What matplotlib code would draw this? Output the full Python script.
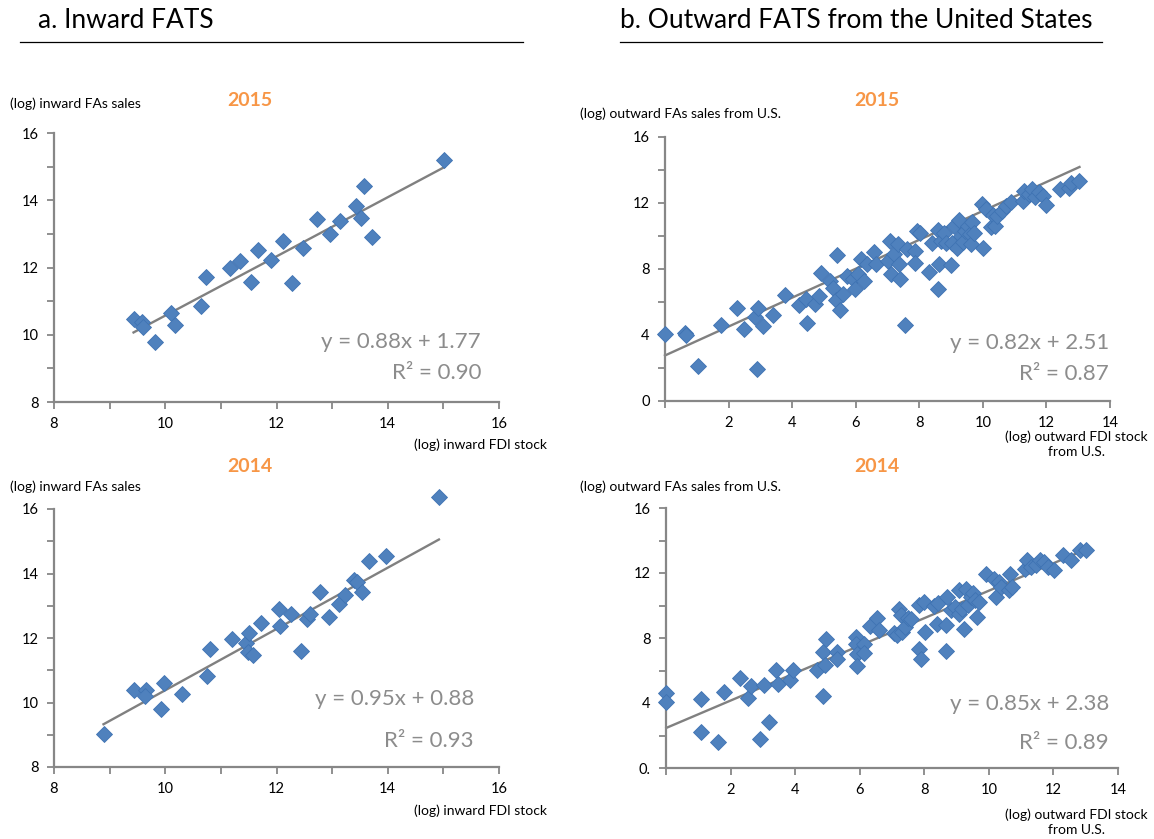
import matplotlib
matplotlib.use("Agg")
import matplotlib.pyplot as plt
from matplotlib.ticker import MultipleLocator

plt.rcParams['font.family'] = ['Lato', 'DejaVu Sans']

# ---- data: inward FATS (log FDI stock, log FAs sales) ----
in15_x = [9.43, 9.58, 9.60, 9.81, 10.10, 10.17, 10.64, 10.73, 11.16, 11.35, 11.55, 11.66,
          11.91, 12.12, 12.27, 12.47, 12.73, 12.96, 13.15, 13.43, 13.52, 13.58, 13.71, 15.02]
in15_y = [10.46, 10.37, 10.24, 9.79, 10.65, 10.29, 10.86, 11.71, 12.00, 12.18, 11.58, 12.52,
          12.22, 12.80, 11.53, 12.57, 13.45, 12.99, 13.37, 13.83, 13.47, 14.41, 12.92, 15.21]

in14_x = [8.89, 9.43, 9.66, 9.63, 9.93, 9.98, 10.31, 10.75, 10.81, 11.20, 11.46, 11.51,
          11.49, 11.57, 11.73, 12.05, 12.06, 12.26, 12.44, 12.54, 12.60, 12.78, 12.95, 13.12,
          13.24, 13.39, 13.45, 13.53, 13.66, 13.96, 14.92]
in14_y = [9.02, 10.38, 10.40, 10.20, 9.79, 10.61, 10.25, 10.82, 11.65, 11.96, 11.85, 12.17,
          11.58, 11.47, 12.46, 12.89, 12.38, 12.74, 11.60, 12.58, 12.74, 13.44, 12.66, 13.05,
          13.32, 13.80, 13.75, 13.42, 14.39, 14.53, 16.37]

# ---- data: outward FATS from the U.S. ----
out15_x = [0.00, 0.64, 0.67, 1.05, 1.76, 2.26, 2.48, 2.84, 2.93, 2.91, 3.07, 3.40, 3.77, 4.21,
           4.45, 4.48, 4.72, 4.83, 4.92, 5.18, 5.30, 5.37, 5.42, 5.51, 5.59, 5.74, 5.92, 5.97,
           6.07, 6.27, 6.17, 6.35, 6.56, 6.64, 7.03, 7.09, 7.11, 7.20, 7.32, 7.35, 7.40, 7.56,
           7.61, 7.85, 7.88, 7.93, 8.03, 8.32, 8.40, 8.59, 8.61, 8.59, 8.67, 8.79, 8.84, 8.99,
           9.02, 9.08, 9.20, 9.26, 9.31, 9.37, 9.45, 9.52, 9.61, 9.64, 9.66, 9.72, 9.96, 10.02,
           10.11, 10.25, 10.31, 10.37, 10.46, 10.60, 10.72, 10.89, 11.25, 11.31, 11.45, 11.54,
           11.63, 11.77, 11.89, 11.98, 12.42, 12.71, 12.77, 13.04]
out15_y = [4.06, 4.12, 4.02, 2.15, 4.59, 5.62, 4.37, 5.10, 5.62, 1.95, 4.57, 5.22, 6.42, 5.81,
           6.21, 4.71, 5.85, 6.36, 7.74, 7.25, 6.86, 6.15, 8.83, 5.54, 6.46, 7.57, 7.37, 6.76,
           7.68, 7.27, 8.63, 8.32, 9.00, 8.28, 8.49, 9.71, 7.68, 8.89, 9.50, 8.28, 7.37, 4.59,
           9.20, 9.10, 8.39, 10.31, 10.17, 7.82, 9.56, 10.38, 8.28, 6.76, 9.71, 10.21, 9.60, 8.22,
           9.60, 10.62, 9.30, 10.98, 10.01, 9.64, 10.31, 10.62, 10.11, 9.50, 10.82, 10.17, 11.94, 9.30,
           11.63, 10.52, 11.27, 10.62, 11.23, 11.53, 11.84, 12.08, 12.14, 12.75, 12.55, 12.85,
           12.35, 12.65, 12.45, 11.88, 12.85, 12.89, 13.22, 13.36]

out14_x = [0.01, 0.01, 1.07, 1.07, 1.62, 1.79, 2.30, 2.53, 2.64, 2.91, 3.02, 3.20, 3.40, 3.48,
           3.83, 3.94, 4.69, 4.86, 4.86, 4.95, 4.92, 5.30, 5.30, 5.87, 5.90, 5.92, 5.92, 6.13,
           6.13, 6.33, 6.53, 6.59, 7.05, 7.14, 7.22, 7.28, 7.30, 7.39, 7.51, 7.60, 7.85, 7.91,
           7.85, 7.99, 8.02, 8.31, 8.40, 8.43, 8.66, 8.68, 8.71, 8.83, 8.94, 9.06, 9.06, 9.17,
           9.23, 9.29, 9.34, 9.44, 9.52, 9.57, 9.63, 9.69, 9.90, 10.15, 10.21, 10.32, 10.38,
           10.61, 10.67, 10.72, 11.13, 11.18, 11.30, 11.47, 11.59, 11.70, 11.82, 12.02, 12.31,
           12.54, 12.82, 13.02]
out14_y = [4.64, 4.06, 4.23, 2.22, 1.60, 4.68, 5.54, 4.33, 5.03, 1.81, 5.09, 2.83, 6.05, 5.19,
           5.39, 6.05, 6.05, 7.14, 4.43, 7.96, 6.32, 7.14, 6.69, 8.06, 7.65, 6.99, 6.26, 7.65,
           7.08, 8.74, 9.25, 8.47, 8.31, 8.16, 9.76, 9.39, 8.37, 8.68, 9.25, 9.19, 7.34, 6.73,
           10.01, 10.22, 8.37, 9.95, 8.88, 10.15, 8.78, 7.18, 10.52, 9.70, 9.91, 10.93, 9.50, 9.81,
           8.57, 11.03, 10.01, 10.52, 10.77, 10.36, 9.29, 10.22, 11.92, 11.65, 10.52, 11.45, 11.14,
           10.93, 11.92, 11.14, 12.27, 12.78, 12.37, 12.47, 12.78, 12.68, 12.37, 12.16, 13.09,
           12.78, 13.44, 13.39]

# trend lines as drawn (slope, intercept) and printed equations
trend = {"in15": (0.88, 1.77), "in14": (0.95, 0.88), "out15": (0.876, 2.76), "out14": (0.845, 2.46)}
eq_text = {"in15": ("y = 0.88x + 1.77", "R² = 0.90"), "in14": ("y = 0.95x + 0.88", "R² = 0.93"),
           "out15": ("y = 0.82x + 2.51", "R² = 0.87"), "out14": ("y = 0.85x + 2.38", "R² = 0.89")}

W, H = 1154, 839
fig = plt.figure(figsize=(W / 100, H / 100), dpi=100)


def px(x, y):
    return x / W, 1 - y / H


def add_axes(x0, x1, ytop, ybot):
    return fig.add_axes([x0 / W, 1 - ybot / H, (x1 - x0) / W, (ybot - ytop) / H])


BLUE = "#4F81BD"
GRAY = "#808080"
ORANGE = "#F79646"


def panel(ax, xs, ys, key, xlim, ylim, xmaj, ymaj, xmin_, ymin_, eq_xy):
    ax.plot(xs, ys, linestyle="none", marker="D", markersize=8.5, color=BLUE,
            markeredgecolor="#3F73B3", markeredgewidth=0.6, clip_on=False, zorder=3)
    a, b = trend[key]
    x0, x1 = min(xs), max(xs)
    ax.plot([x0, x1], [a * x0 + b, a * x1 + b], color=GRAY, lw=1.7, zorder=2, clip_on=False)
    ax.set_xlim(*xlim)
    ax.set_ylim(*ylim)
    ax.xaxis.set_major_locator(MultipleLocator(xmaj))
    ax.yaxis.set_major_locator(MultipleLocator(ymaj))
    ax.xaxis.set_minor_locator(MultipleLocator(xmin_))
    ax.yaxis.set_minor_locator(MultipleLocator(ymin_))
    for s in ["top", "right"]:
        ax.spines[s].set_visible(False)
    for s in ["left", "bottom"]:
        ax.spines[s].set_color("#878787")
        ax.spines[s].set_linewidth(1.6)
    ax.tick_params(which="both", direction="out", color="#878787", width=1.3)
    ax.tick_params(which="major", length=5, labelsize=10.5, pad=6)
    ax.tick_params(which="minor", length=5)
    e1, e2 = eq_text[key]
    ex, ey1, ey2 = eq_xy
    fig.text(*px(ex, ey1), e1, ha="right", va="center", fontsize=16, color="#8C8C8C")
    fig.text(*px(ex, ey2), e2, ha="right", va="center", fontsize=16, color="#8C8C8C")


ax1 = add_axes(54, 499, 133, 402)
panel(ax1, in15_x, in15_y, "in15", (8, 16), (8, 16), 2, 2, 1, 1, (481, 342, 373))
ax2 = add_axes(54, 499, 509, 767)
panel(ax2, in14_x, in14_y, "in14", (8, 16), (8, 16), 2, 2, 1, 1, (474, 699, 741))
ax3 = add_axes(665, 1110, 137, 401)
panel(ax3, out15_x, out15_y, "out15", (0, 14), (0, 16), 2, 4, 2, 2, (1109, 343, 374))
ax4 = add_axes(666, 1118, 508, 768)
panel(ax4, out14_x, out14_y, "out14", (0, 14), (0, 16), 2, 4, 2, 2, (1109, 704, 743))

for ax in (ax3, ax4):
    ax.set_xticks([0, 2, 4, 6, 8, 10, 12, 14])
    ax.set_xticklabels(["", "2", "4", "6", "8", "10", "12", "14"])
ax4.set_yticks([0, 4, 8, 12, 16])
ax4.set_yticklabels(["0.", "4", "8", "12", "16"])

# section titles with underline
fig.text(*px(38, 20), "a. Inward FATS", fontsize=19, va="center", ha="left")
fig.text(*px(620, 20), "b. Outward FATS from the United States", fontsize=19, va="center", ha="left")
fig.add_artist(plt.Line2D([20 / W, 523 / W], [1 - 42 / H] * 2, color="black", lw=0.9))
fig.add_artist(plt.Line2D([620 / W, 1102 / W], [1 - 42 / H] * 2, color="black", lw=0.9))

# year labels
for (x, y, t) in [(250, 100, "2015"), (877, 100, "2015"), (250, 466, "2014"), (877, 466, "2014")]:
    fig.text(*px(x, y), t, fontsize=14, fontweight="bold", color=ORANGE, ha="center", va="center")

# axis labels
fig.text(*px(10, 104), "(log) inward FAs sales", fontsize=10, ha="left", va="center")
fig.text(*px(10, 487), "(log) inward FAs sales", fontsize=10, ha="left", va="center")
fig.text(*px(580, 114), "(log) outward FAs sales from U.S.", fontsize=10, ha="left", va="center")
fig.text(*px(580, 487), "(log) outward FAs sales from U.S.", fontsize=10, ha="left", va="center")
fig.text(*px(547, 445), "(log) inward FDI stock", fontsize=10, ha="right", va="center")
fig.text(*px(547, 811), "(log) inward FDI stock", fontsize=10, ha="right", va="center")
fig.text(*px(1076, 444), "(log) outward FDI stock\nfrom U.S.", fontsize=10, ha="center", va="center",
         linespacing=1.35)
fig.text(*px(1076, 822), "(log) outward FDI stock\nfrom U.S.", fontsize=10, ha="center", va="center",
         linespacing=1.35)

fig.savefig("out.png", dpi=100, facecolor="white")
